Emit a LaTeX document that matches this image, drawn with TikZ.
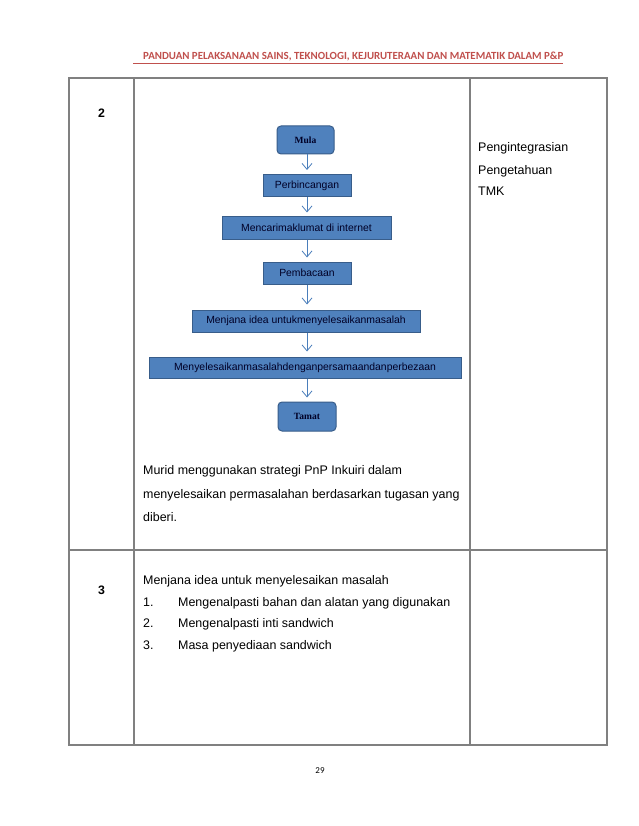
\documentclass[tikz,border=0pt]{standalone}
\usepackage{fontspec}
\setmainfont{Liberation Sans}
\newfontfamily\hdrfont{Carlito}
\newfontfamily\seriffont{Liberation Serif}
\usetikzlibrary{arrows.meta}
\definecolor{hdrred}{HTML}{C0504D}
\definecolor{boxfill}{HTML}{4F81BD}
\definecolor{boxline}{HTML}{385D8A}
\definecolor{arrowblue}{HTML}{4A7EBB}
\definecolor{gridgray}{HTML}{808080}
\tikzset{
  flowbox/.style={draw=boxline, line width=1pt, fill=boxfill, inner sep=0pt, font=\fontsize{10.4}{12}\selectfont, text=black!85!blue},
  termbox/.style={flowbox, rounded corners=4pt, font=\seriffont\bfseries\fontsize{9.5}{11}\selectfont},
  flowarrow/.style={draw=arrowblue, line width=0.8pt, -{Straight Barb[length=6pt,width=10pt]}},
  bodytext/.style={anchor=base west, inner sep=0pt, font=\fontsize{12.45}{14}\selectfont},
  gridline/.style={draw=gridgray, line width=1.3pt}
}
\begin{document}
\begin{tikzpicture}[x=1pt,y=-1pt]
\useasboundingbox (0,0) rectangle (638,826);
\fill[white] (0,0) rectangle (638,826);
% header
\node[anchor=base west, inner sep=0pt, text=hdrred, font=\hdrfont\bfseries\fontsize{10.9}{12}\selectfont] (hdr) at (143,60) {PANDUAN PELAKSANAAN SAINS, TEKNOLOGI, KEJURUTERAAN DAN MATEMATIK DALAM P\&P};
\coordinate (hl) at (133,63);
\coordinate (hr) at (563,63);
\draw[hdrred, line width=0.6pt] (hl) -- (hr);
% table
\draw[gridline] (69,78) rectangle (607,745);
\draw[gridline] (134,78) -- (134,745);
\draw[gridline] (470,78) -- (470,745);
\draw[gridline] (69,550) -- (607,550);
% row numbers
\node[font=\bfseries\fontsize{12.3}{14}\selectfont, inner sep=0pt] (n2) at (101.5,113) {2};
\node[font=\bfseries\fontsize{12.3}{14}\selectfont, inner sep=0pt] (n3) at (101.5,590) {3};
% flowchart
\node[termbox, minimum width=57pt, minimum height=28pt] (mula) at (305.5,140) {Mula};
\node[flowbox, minimum width=88pt, minimum height=22pt] (perb) at (307,186) {Perbincangan};
\node[flowbox, minimum width=169pt, minimum height=22pt] (menc) at (306.5,228) {Mencarimaklumat di internet};
\node[flowbox, minimum width=88pt, minimum height=22pt] (pemb) at (307,273) {Pembacaan};
\node[flowbox, minimum width=228pt, minimum height=22pt] (menj) at (306,321) {Menjana idea untukmenyelesaikanmasalah};
\node[flowbox, minimum width=312pt, minimum height=21pt] (meny) at (305,367.5) {Menyelesaikanmasalahdenganpersamaandanperbezaan};
\node[termbox, minimum width=58pt, minimum height=29pt] (tamat) at (307,416.5) {Tamat};
\draw[flowarrow] (mula.south -| perb.north) -- ([yshift=4.5pt]perb.north);
\draw[flowarrow] (perb.south) -- ([yshift=4pt]menc.north -| perb.south);
\draw[flowarrow] (menc.south -| pemb.north) -- ([yshift=4pt]pemb.north);
\draw[flowarrow] (pemb.south) -- ([yshift=5pt]menj.north -| pemb.south);
\draw[flowarrow] (menj.south -| pemb.south) -- ([yshift=5pt]meny.north -| pemb.south);
\draw[flowarrow] (meny.south -| tamat.north) -- ([yshift=4pt]tamat.north);
% text in row 2
\node[bodytext] (t1) at (143,474) {Murid menggunakan strategi PnP Inkuiri dalam};
\node[bodytext] (t2) at (143,498) {menyelesaikan permasalahan berdasarkan tugasan yang};
\node[bodytext] (t3) at (143,521) {diberi.};
\node[bodytext] (r1) at (478,152) {Pengintegrasian};
\node[bodytext] (r2) at (478,175) {Pengetahuan};
\node[bodytext] (r3) at (478,196) {TMK};
% row 3
\node[bodytext] (m0) at (143,584) {Menjana idea untuk menyelesaikan masalah};
\node[bodytext] (m1n) at (143,606) {1.};
\node[bodytext] (m1) at (178,606) {Mengenalpasti bahan dan alatan yang digunakan};
\node[bodytext] (m2n) at (143,627) {2.};
\node[bodytext] (m2) at (178,627) {Mengenalpasti inti sandwich};
\node[bodytext] (m3n) at (143,649) {3.};
\node[bodytext] (m3) at (178,649) {Masa penyediaan sandwich};
% page number
\node[font=\hdrfont\fontsize{9}{11}\selectfont, inner sep=0pt] (pg) at (320,771) {29};
\end{tikzpicture}
\end{document}
